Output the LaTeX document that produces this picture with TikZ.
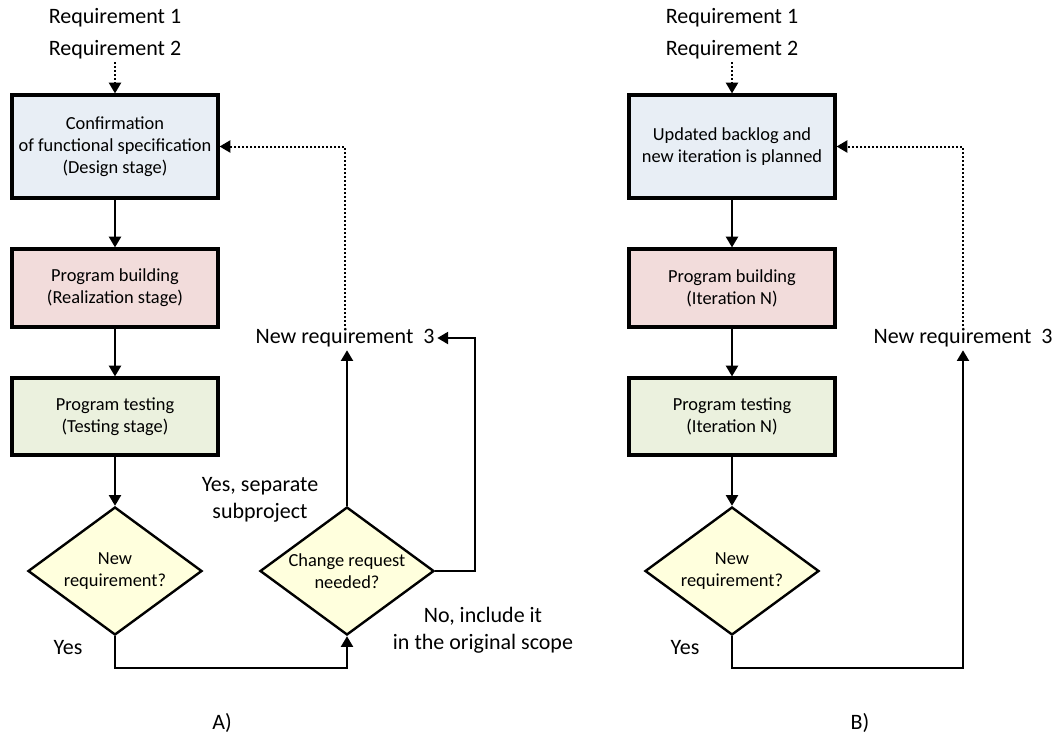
\documentclass[tikz,border=0pt]{standalone}
\usepackage{fontspec}
\setmainfont{Carlito}
\usetikzlibrary{shapes.geometric,arrows.meta,calc}
\definecolor{bluefill}{HTML}{E8EEF5}
\definecolor{redfill}{HTML}{F2DCDB}
\definecolor{greenfill}{HTML}{EBF1DE}
\definecolor{decfill}{HTML}{FFFFDD}
\begin{document}
\begin{tikzpicture}[x=0.75pt,y=-0.75pt,
  box/.style={draw=black,line width=2.4pt,minimum width=154.5pt,align=center,font=\fontsize{13.8}{16.5}\selectfont,inner sep=2pt},
  dec/.style={draw=black,line width=1.8pt,shape=diamond,aspect=1.36,minimum width=130.5pt,minimum height=96pt,inner sep=0pt,fill=decfill,align=center,font=\fontsize{13.8}{16.5}\selectfont},
  lbl/.style={font=\fontsize{16.5}{20}\selectfont,align=center,inner sep=2pt},
  arr/.style={line width=1.5pt,-{Triangle[length=8pt,width=9pt]}},
  dotarr/.style={arr,dash pattern=on 1.5pt off 1.5pt}]
\useasboundingbox (0,0) rectangle (1056,740);
% ---------- A ----------
\node[lbl] (ra1) at (115,18) {Requirement 1};
\node[lbl] (ra2) at (115,50) {Requirement 2};
\node[box,fill=bluefill,minimum height=77.25pt] (a1) at (115,146.5) {Confirmation\\of functional specification\\(Design stage)};
\node[box,fill=redfill,minimum height=58.5pt] (a2) at (115,288) {Program building\\(Realization stage)};
\node[box,fill=greenfill,minimum height=57.75pt] (a3) at (115,416.5) {Program testing\\(Testing stage)};
\node[dec] (ad1) at (115,571) {New\\requirement?};
\node[dec] (ad2) at (347,571) {Change request\\needed?};
\node[lbl] (an) at (345,338) {New requirement\ \ 3};
\coordinate (ac) at (475,338);
\node[lbl] (ayes) at (68,648) {Yes};
\node[lbl] (asep) at (260,500) {Yes, separate\\subproject};
\node[lbl] (ano) at (483,630) {No, include it\\in the original scope};
\node[lbl] (acap) at (222,723) {A)};
\draw[dotarr] (ra2.south) -- (a1.north);
\draw[arr] (a1.south) -- (a2.north);
\draw[arr] (a2.south) -- (a3.north);
\draw[arr] (a3.south) -- (ad1.north);
\draw[arr] (ad1.south) -- ++(0,32) -| (ad2.south);
\draw[arr] (ad2.north) -- (ad2.north |- an.south);
\draw[arr] (ad2.east) -| (ac) -- (an.east);
\draw[dotarr] (an.north) |- (a1.east);
% ---------- B ----------
\node[lbl] (rb1) at (732,18) {Requirement 1};
\node[lbl] (rb2) at (732,50) {Requirement 2};
\node[box,fill=bluefill,minimum height=77.25pt] (b1) at (732,146.5) {Updated backlog and\\new iteration is planned};
\node[box,fill=redfill,minimum height=58.5pt] (b2) at (732,288) {Program building\\(Iteration N)};
\node[box,fill=greenfill,minimum height=57.75pt] (b3) at (732,416.5) {Program testing\\(Iteration N)};
\node[dec] (bd1) at (732,571) {New\\requirement?};
\node[lbl] (bn) at (963,338) {New requirement\ \ 3};
\node[lbl] (byes) at (685,648) {Yes};
\node[lbl] (bcap) at (860,723) {B)};
\draw[dotarr] (rb2.south) -- (b1.north);
\draw[arr] (b1.south) -- (b2.north);
\draw[arr] (b2.south) -- (b3.north);
\draw[arr] (b3.south) -- (bd1.north);
\draw[arr] (bd1.south) -- ++(0,32) -| (bn.south);
\draw[dotarr] (bn.north) |- (b1.east);
\end{tikzpicture}
\end{document}
